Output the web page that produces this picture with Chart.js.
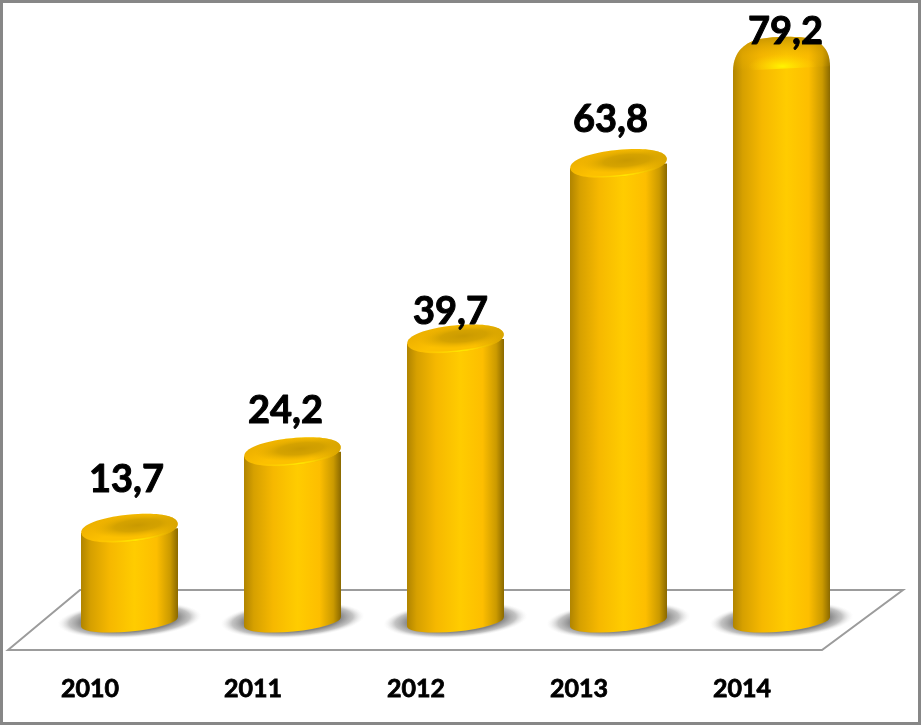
<!DOCTYPE html>
<html>
<head>
<meta charset="utf-8">
<style>
  html, body { margin: 0; padding: 0; background: #fff; overflow: hidden; }
  canvas { display: block; outline: 3px solid #878787; outline-offset: -3px; }
</style>
<script src="https://cdn.jsdelivr.net/npm/chart.js@4"></script>
</head>
<body>
<canvas id="chart" width="921" height="725"></canvas>
<script>
const years = ["2010", "2011", "2012", "2013", "2014"];
const values = [13.7, 24.2, 39.7, 63.8, 79.2];
const valueLabels = ["13,7", "24,2", "39,7", "63,8", "79,2"];

// hand placed labels in the original, offset from the top of each bar
const labelNudgeX = [-3, -7, -5, -8, 4];
const labelNudgeY = [-36, -29, -15, -31, -7];

const FONT = "Lato, Carlito, sans-serif";
const BAR_PCT = 97 / 163;
const TILT = -0.1; // ellipses lean up to the right

function sideGradient(ctx, cx, w) {
  const g = ctx.createLinearGradient(cx - w / 2, 0, cx + w / 2, 0);
  g.addColorStop(0, "#b08400");
  g.addColorStop(0.1, "#d6a000");
  g.addColorStop(0.3, "#f6b800");
  g.addColorStop(0.55, "#ffcc00");
  g.addColorStop(0.78, "#fdbe00");
  g.addColorStop(0.92, "#cb9a00");
  g.addColorStop(1, "#8a6900");
  return g;
}

function barGradient(c) {
  const chart = c.chart;
  if (!chart.chartArea) return "#ffc000";
  const x = chart.scales.x;
  const w = (x.width / years.length) * BAR_PCT;
  return sideGradient(chart.ctx, x.getPixelForValue(c.dataIndex), w);
}

function isDome(i) {
  return i === years.length - 1;
}

function eachBar(chart, fn) {
  chart.getDatasetMeta(0).data.forEach((bar, i) => fn(bar, i));
}

function floorBottom(chart) {
  return chart.chartArea.bottom - 6;
}

const cylinderPlugin = {
  id: "cylinder",
  beforeDatasetsDraw(chart) {
    const { ctx, chartArea } = chart;
    const bottom = chartArea.bottom;
    // floor
    ctx.save();
    ctx.strokeStyle = "#9c9c9c";
    ctx.lineWidth = 2;
    ctx.beginPath();
    ctx.moveTo(chartArea.left - 40, bottom + 22);
    ctx.lineTo(chartArea.left + 32, bottom - 38);
    ctx.lineTo(chartArea.right + 40, bottom - 38);
    ctx.lineTo(chartArea.right - 41, bottom + 22);
    ctx.closePath();
    ctx.stroke();
    ctx.restore();

    eachBar(chart, (bar) => {
      const y = floorBottom(chart);
      // shadow on the floor
      ctx.save();
      ctx.translate(bar.x, y - 2);
      ctx.rotate(-0.06);
      ctx.scale(1, 0.25);
      const r = 72;
      const g = ctx.createRadialGradient(0, 0, 0, 0, 0, r);
      g.addColorStop(0, "rgba(128,128,128,1)");
      g.addColorStop(0.66, "rgba(132,132,132,1)");
      g.addColorStop(0.84, "rgba(170,170,170,.7)");
      g.addColorStop(1, "rgba(235,235,235,0)");
      ctx.fillStyle = g;
      ctx.beginPath();
      ctx.arc(0, 0, r, 0, Math.PI * 2);
      ctx.fill();
      ctx.restore();
      // round bottom of the cylinder
      ctx.save();
      ctx.fillStyle = sideGradient(ctx, bar.x, bar.width);
      ctx.beginPath();
      ctx.ellipse(bar.x, y, bar.width / 2, 9.5, TILT, 0, Math.PI * 2);
      ctx.fill();
      ctx.restore();
    });
  },
  beforeDatasetDraw(chart) {
    // trim the square bars to the cylinder outline
    const { ctx } = chart;
    const y0 = floorBottom(chart);
    ctx.save();
    ctx.beginPath();
    eachBar(chart, (bar, i) => {
      const l = bar.x - bar.width / 2;
      const r = bar.x + bar.width / 2;
      const topL = bar.y + (isDome(i) ? 19 : 4.8);
      const topR = bar.y + (isDome(i) ? 14 : -4.8);
      ctx.moveTo(l, topL);
      ctx.lineTo(r, topR);
      ctx.lineTo(r, y0 - 4.8);
      ctx.lineTo(l, y0 + 4.8);
      ctx.closePath();
    });
    ctx.clip();
  },
  afterDatasetDraw(chart) {
    chart.ctx.restore();
  },
  afterDatasetsDraw(chart) {
    const { ctx } = chart;
    eachBar(chart, (bar, i) => {
      if (isDome(i)) drawDome(ctx, bar);
      else drawCap(ctx, bar);
    });
    // value labels go on top of everything
    ctx.save();
    ctx.fillStyle = "#000";
    ctx.strokeStyle = "#000";
    ctx.lineWidth = 1;
    ctx.lineJoin = "round";
    ctx.font = "bold 38px " + FONT;
    ctx.textAlign = "center";
    ctx.textBaseline = "alphabetic";
    eachBar(chart, (bar, i) => {
      const x = bar.x + labelNudgeX[i];
      const y = bar.y + labelNudgeY[i];
      ctx.fillText(valueLabels[i], x, y);
      ctx.strokeText(valueLabels[i], x, y);
    });
    ctx.restore();
  },
};

// slightly blunter than a true ellipse, the caps have round ends
function capPath(ctx, cx, cy, rx, ry) {
  const kx = rx * 0.6;
  const ky = ry * 0.6;
  ctx.save();
  ctx.translate(cx, cy);
  ctx.rotate(TILT);
  ctx.beginPath();
  ctx.moveTo(-rx, 0);
  ctx.bezierCurveTo(-rx, -ky, -kx, -ry, 0, -ry);
  ctx.bezierCurveTo(kx, -ry, rx, -ky, rx, 0);
  ctx.bezierCurveTo(rx, ky, kx, ry, 0, ry);
  ctx.bezierCurveTo(-kx, ry, -rx, ky, -rx, 0);
  ctx.closePath();
  ctx.restore();
}

function drawCap(ctx, bar) {
  const rx = bar.width / 2;
  const ry = 13.5;
  ctx.save();
  capPath(ctx, bar.x, bar.y, rx, ry);
  ctx.clip();
  const g = ctx.createLinearGradient(bar.x - rx, bar.y - 14, bar.x - rx + 12, bar.y + 14);
  g.addColorStop(0, "#e0a900");
  g.addColorStop(0.6, "#f2b500");
  g.addColorStop(1, "#fcc000");
  ctx.fillStyle = g;
  ctx.fillRect(bar.x - rx - 2, bar.y - 20, bar.width + 4, 40);
  // right end falls off a little
  const e = ctx.createLinearGradient(bar.x + rx * 0.4, 0, bar.x + rx, 0);
  e.addColorStop(0, "rgba(190,145,0,0)");
  e.addColorStop(1, "rgba(190,145,0,.6)");
  ctx.fillStyle = e;
  ctx.fillRect(bar.x, bar.y - 20, rx + 2, 40);
  // dark dish in the middle
  ctx.save();
  ctx.translate(bar.x + 8, bar.y - 3);
  ctx.rotate(TILT);
  ctx.scale(1, 0.25);
  const d = ctx.createRadialGradient(0, 0, 0, 0, 0, rx * 0.95);
  d.addColorStop(0, "rgba(198,151,0,.95)");
  d.addColorStop(0.5, "rgba(204,156,0,.8)");
  d.addColorStop(1, "rgba(225,170,0,0)");
  ctx.fillStyle = d;
  ctx.fillRect(-rx, -rx, rx * 2, rx * 2);
  ctx.restore();
  // lit front rim, strongest just right of the middle
  const lit = ctx.createLinearGradient(bar.x - rx * 0.7, 0, bar.x + rx * 0.8, 0);
  lit.addColorStop(0, "rgba(255,224,0,0)");
  lit.addColorStop(0.55, "rgba(255,232,0,.95)");
  lit.addColorStop(1, "rgba(255,224,0,0)");
  ctx.strokeStyle = lit;
  ctx.lineWidth = 1.6;
  capPath(ctx, bar.x, bar.y - 1, rx - 1, ry);
  ctx.stroke();
  ctx.restore();
}

function drawDome(ctx, bar) {
  const w = bar.width;
  const l = bar.x - w / 2;
  const r = bar.x + w / 2;
  const y = bar.y;
  ctx.save();
  ctx.beginPath();
  ctx.moveTo(l, y + 20);
  ctx.bezierCurveTo(l, y - 2, l + 15, y - 9, bar.x - 24, y - 12);
  ctx.bezierCurveTo(bar.x - 8, y - 15, bar.x + 8, y - 15, bar.x + 20, y - 14);
  ctx.bezierCurveTo(r - 10, y - 12, r, y - 3, r, y + 15);
  ctx.closePath();
  ctx.clip();
  ctx.fillStyle = sideGradient(ctx, bar.x, w);
  ctx.fillRect(l, y - 16, w, 40);
  const v = ctx.createLinearGradient(0, y - 15, 0, y + 20);
  v.addColorStop(0, "rgba(175,130,0,.7)");
  v.addColorStop(0.55, "rgba(240,175,0,.3)");
  v.addColorStop(1, "rgba(255,200,0,0)");
  ctx.fillStyle = v;
  ctx.fillRect(l, y - 16, w, 40);
  ctx.save();
  ctx.translate(bar.x + 1, y + 15);
  ctx.scale(1, 0.36);
  const h = ctx.createRadialGradient(0, 0, 0, 0, 0, 34);
  h.addColorStop(0, "rgba(255,245,0,1)");
  h.addColorStop(0.4, "rgba(255,225,0,.7)");
  h.addColorStop(1, "rgba(255,205,0,0)");
  ctx.fillStyle = h;
  ctx.fillRect(-36, -36, 72, 72);
  ctx.restore();
  ctx.restore();
}

new Chart(document.getElementById("chart"), {
  type: "bar",
  data: {
    labels: years,
    datasets: [{
      data: values,
      backgroundColor: barGradient,
      borderWidth: 0,
      barPercentage: BAR_PCT,
      categoryPercentage: 1,
    }],
  },
  options: {
    responsive: false,
    devicePixelRatio: 1,
    animation: false,
    layout: { padding: { left: 48, right: 58, top: 9, bottom: 0 } },
    plugins: {
      legend: { display: false },
      title: { display: false },
      tooltip: { enabled: false },
    },
    scales: {
      x: {
        grid: { display: false },
        border: { display: false },
        afterFit: (scale) => { scale.height = 97; },
        ticks: {
          color: "#000",
          textStrokeColor: "#000",
          textStrokeWidth: 0.8,
          font: { family: FONT, size: 25, weight: "bold" },
          padding: 38,
          labelOffset: -39.5,
          maxRotation: 0,
          autoSkip: false,
        },
      },
      y: { display: false, min: 0, max: 85 },
    },
  },
  plugins: [cylinderPlugin],
});
</script>
</body>
</html>
